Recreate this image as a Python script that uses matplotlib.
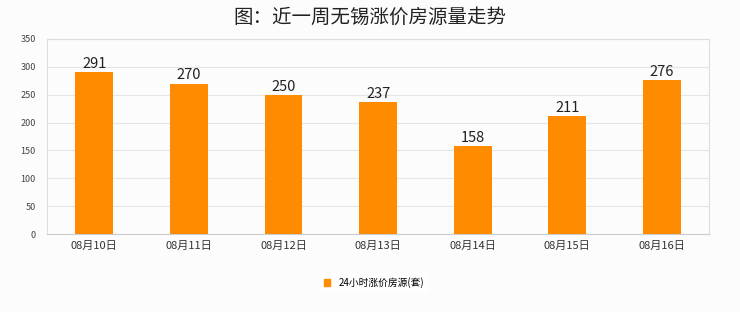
import matplotlib
matplotlib.use("Agg")
import matplotlib.pyplot as plt
from matplotlib.patches import Patch

plt.rcParams['font.family'] = ['Noto Sans CJK SC', 'DejaVu Sans']

#DATA
dates = ["08月10日", "08月11日", "08月12日", "08月13日", "08月14日", "08月15日", "08月16日"]
counts = [291, 270, 250, 237, 158, 211, 276]
yticks = [0, 50, 100, 150, 200, 250, 300, 350]
series_name = "24小时涨价房源(套)"
title = "图：近一周无锡涨价房源量走势"

BAR_COLOR = "#ff8c00"
BG = "#fcfcfc"

fig = plt.figure(figsize=(7.4, 3.12), dpi=100, facecolor=BG)
ax = fig.add_axes([0.0635, 0.25, 0.895, 0.625], facecolor=BG)

x = list(range(len(dates)))
bars = ax.bar(x, counts, width=0.4, color=BAR_COLOR, zorder=3)

#value labels on top of bars
for xi, v in zip(x, counts):
    ax.text(xi, v + 2, str(v), ha="center", va="bottom", fontsize=10.5,
            color="#222222", zorder=4)

ax.set_xlim(-0.5, len(dates) - 0.5)
ax.set_ylim(0, 350)
ax.set_yticks(yticks)
ax.set_yticklabels([str(t) for t in yticks], fontsize=6.5, color="#444444")
ax.set_xticks(x)
ax.set_xticklabels(dates, fontsize=8, color="#333333")
ax.tick_params(axis="both", length=0, pad=5)
ax.tick_params(axis="y", pad=8)

ax.grid(axis="y", color="#e6e6e6", linewidth=0.8, zorder=0)
for s in ax.spines.values():
    s.set_color("#dddddd")
    s.set_linewidth(0.8)
ax.spines["bottom"].set_color("#cccccc")

fig.text(0.5, 0.945, title, ha="center", va="center", fontsize=14,
         fontweight="medium", color="#222222")

#legend
handle = Patch(facecolor=BAR_COLOR, edgecolor=BAR_COLOR)
fig.legend([handle], [series_name], loc="center", bbox_to_anchor=(0.505, 0.095),
           fontsize=7, frameon=True, facecolor="white", edgecolor="white",
           handlelength=0.7, handleheight=0.7, handletextpad=0.8)

fig.savefig("out.png", dpi=100, facecolor=BG)
